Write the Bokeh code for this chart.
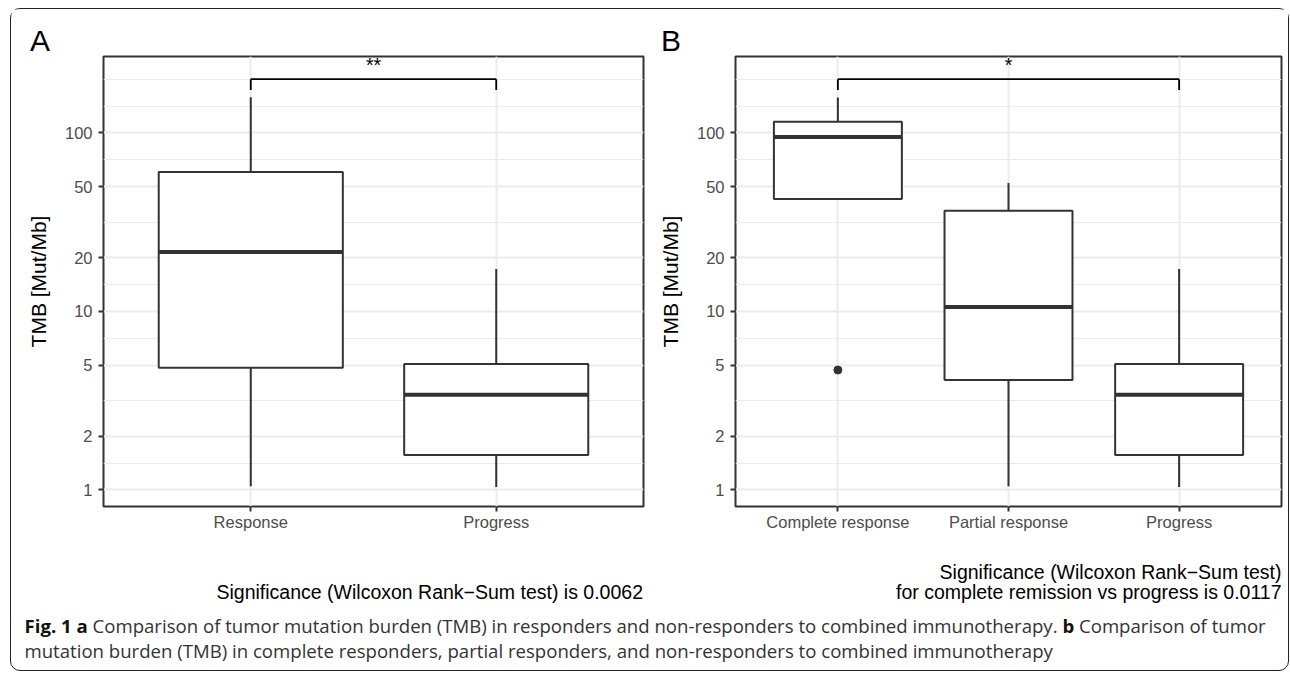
from bokeh.plotting import figure
from bokeh.models import (Range1d, FactorRange, FixedTicker, PrintfTickFormatter,
                          Title, Div, ColumnDataSource)
from bokeh.layouts import row, column
from bokeh.transform import dodge
from bokeh.core.properties import value
from bokeh.embed import file_html
from bokeh.resources import INLINE

# ---------------- data ----------------
cats_a = ["Response", "Progress"]
a_whisk_low = [1.05, 1.04]
a_q1 = [4.83, 1.57]
a_median = [21.5, 3.41]
a_q3 = [60.4, 5.08]
a_whisk_high = [158.5, 17.3]

cats_b = ["Complete response", "Partial response", "Progress"]
b_whisk_low = [42.7, 1.05, 1.04]
b_q1 = [42.7, 4.13, 1.57]
b_median = [95.0, 10.6, 3.41]
b_q3 = [115.6, 36.6, 5.08]
b_whisk_high = [158.0, 52.5, 17.3]
b_outlier_cat = ["Complete response"]
b_outlier_val = [4.70]

y_major = [1, 2, 5, 10, 20, 50, 100]
y_minor = [1.414, 3.162, 7.071, 14.14, 31.62, 70.71, 141.4, 200]

sig_a = "**"
sig_b = "*"
title_a = ["Significance (Wilcoxon Rank\u2212Sum test) is 0.0062"]
title_b = ["Significance (Wilcoxon Rank\u2212Sum test)",
           "for complete remission vs progress is 0.0117"]
caption_1a = "Fig. 1 a"
caption_1 = " Comparison of tumor mutation burden (TMB) in responders and non-responders to combined immunotherapy. "
caption_1b = "b"
caption_2 = " Comparison of tumor"
caption_3 = "mutation burden (TMB) in complete responders, partial responders, and non-responders to combined immunotherapy"

# ---------------- layout constants ----------------
Y0, Y1 = 0.808, 268.0
FIG_H = 533
BORDER_TOP = 47
BORDER_BOTTOM = FIG_H - BORDER_TOP - 450
BRACKET_Y = 200
BRACKET_TICK = 174
STAR_Y = 241
FONT = "Liberation Sans"
DARK = "#333333"


def make_panel(cats, low, q1, med, q3, high, width, bl, br, letter, letter_off,
               br_from, br_to, stars, star_cat, star_off):
    p = figure(width=width, height=FIG_H,
               x_range=FactorRange(*cats, range_padding=0.1, range_padding_units="absolute"),
               y_range=Range1d(Y0, Y1), y_axis_type="log",
               output_backend="svg", toolbar_location=None,
               min_border_left=bl, min_border_right=br,
               min_border_top=BORDER_TOP, min_border_bottom=BORDER_BOTTOM)
    p.background_fill_color = "white"
    p.border_fill_color = "white"
    p.outline_line_color = DARK
    p.outline_line_width = 2

    p.title = Title(text=letter, align="left", offset=letter_off, standoff=0,
                    vertical_align="bottom", text_font=FONT, text_font_size="30px",
                    text_font_style="normal", text_color="black")

    p.yaxis.ticker = FixedTicker(ticks=y_major, minor_ticks=[])
    p.ygrid.ticker = FixedTicker(ticks=y_major, minor_ticks=y_minor)
    p.ygrid.grid_line_color = "#EBEBEB"
    p.ygrid.grid_line_width = 2
    p.ygrid.minor_grid_line_color = "#EBEBEB"
    p.ygrid.minor_grid_line_width = 1
    p.xgrid.grid_line_color = "#EBEBEB"
    p.xgrid.grid_line_width = 2

    for ax in (p.xaxis[0], p.yaxis[0]):
        ax.axis_line_color = None
        ax.major_tick_line_color = DARK
        ax.major_tick_line_width = 2
        ax.major_tick_out = 5
        ax.major_tick_in = 0
        ax.minor_tick_line_color = None
        ax.major_label_text_color = "#4D4D4D"
        ax.major_label_text_font = FONT
        ax.major_label_text_font_size = "16.5px"
    p.yaxis.formatter = PrintfTickFormatter(format="%d")
    p.yaxis.major_label_standoff = 6
    p.xaxis.major_label_standoff = 1
    p.yaxis.axis_label = "TMB [Mut/Mb]"
    p.yaxis.axis_label_text_font = FONT
    p.yaxis.axis_label_text_font_size = "21px"
    p.yaxis.axis_label_text_font_style = "normal"
    p.yaxis.axis_label_text_color = "black"
    p.yaxis.axis_label_standoff = 12

    src = ColumnDataSource(dict(cat=cats, low=low, q1=q1, med=med, q3=q3, high=high))
    p.segment(x0="cat", y0="low", x1="cat", y1="q1", source=src,
              line_color=DARK, line_width=2)
    p.segment(x0="cat", y0="q3", x1="cat", y1="high", source=src,
              line_color=DARK, line_width=2)
    p.vbar(x="cat", width=0.75, bottom="q1", top="q3", source=src,
           fill_color="white", line_color=DARK, line_width=2)
    p.segment(x0=dodge("cat", -0.375, range=p.x_range), y0="med",
              x1=dodge("cat", 0.375, range=p.x_range), y1="med", source=src,
              line_color=DARK, line_width=4)

    # significance bracket
    bsrc = ColumnDataSource(dict(
        x0=[br_from, br_from, br_to], y0=[BRACKET_Y, BRACKET_Y, BRACKET_Y],
        x1=[br_to, br_from, br_to], y1=[BRACKET_Y, BRACKET_TICK, BRACKET_TICK]))
    p.segment(x0="x0", y0="y0", x1="x1", y1="y1", source=bsrc,
              line_color="black", line_width=1.8)
    ssrc = ColumnDataSource(dict(cat=[star_cat], y=[STAR_Y], t=[stars]))
    p.text(x=dodge("cat", star_off, range=p.x_range), y="y", text="t", source=ssrc,
           text_align="center", text_baseline="alphabetic",
           text_font=value(FONT), text_font_size="19.5px", text_color="black")
    return p


pa = make_panel(cats_a, a_whisk_low, a_q1, a_median, a_q3, a_whisk_high,
                640, 92, 8, "A", -73.5, "Response", "Progress", sig_a,
                "Response", 0.5)
pb = make_panel(cats_b, b_whisk_low, b_q1, b_median, b_q3, b_whisk_high,
                637, 84, 7, "B", -74.5, "Complete response", "Progress", sig_b,
                "Partial response", 0.0)
pb.scatter(x=b_outlier_cat, y=b_outlier_val, size=8, color=DARK)

# ---- x-axis titles (right-aligned under each panel) and figure caption ----
SIG_STYLE = ("position:absolute;white-space:nowrap;font-family:'Liberation Sans',Arial,sans-serif;"
             "font-size:19.5px;line-height:20px;color:#000;")
CAP_STYLE = ("position:absolute;left:13.5px;white-space:nowrap;font-family:'Open Sans',sans-serif;"
             "font-size:18.6px;line-height:25.5px;color:#333;")
B = '<span style="font-weight:bold;color:#111">%s</span>'
S = '<span>%s</span>'
html = ('<div style="position:relative;width:1277px;height:128px;margin:0;padding:0">'
        '<div style="' + SIG_STYLE + 'right:645px;top:39.7px">' + S % title_a[0] + '</div>'
        '<div style="' + SIG_STYLE + 'right:6.5px;top:19.7px">' + S % title_b[0] + '</div>'
        '<div style="' + SIG_STYLE + 'right:6.5px;top:39.7px">' + S % title_b[1] + '</div>'
        '<div style="' + CAP_STYLE + 'top:70.5px">' + B % caption_1a + S % caption_1 +
        B % caption_1b + S % caption_2 + '</div>'
        '<div style="' + CAP_STYLE + 'top:96px">' + S % caption_3 + '</div>'
        '</div>')
cap = Div(text=html, width=1277, height=128, margin=0)

root = column(row(pa, pb), cap,
              styles={"border": "1.5px solid #222", "border-radius": "10px",
                      "margin-left": "10px", "margin-top": "8px",
                      "background-color": "white"})

open("out.html", "w").write(file_html(root, INLINE))
